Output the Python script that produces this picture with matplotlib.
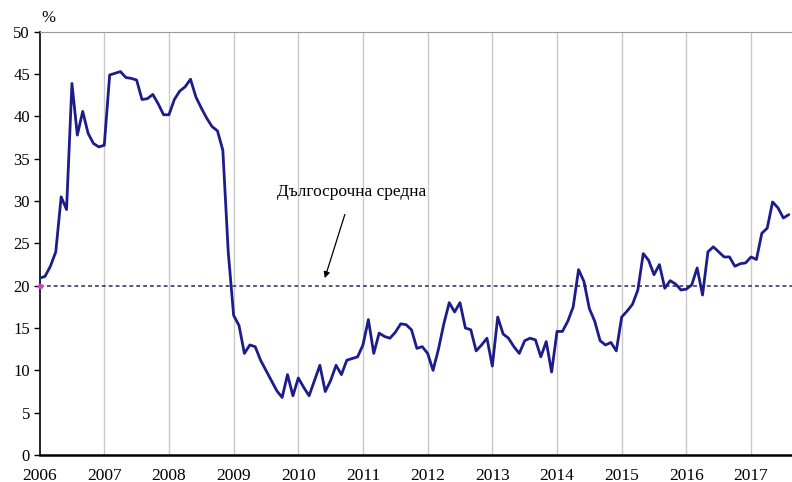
import numpy as np
import matplotlib
matplotlib.use("Agg")
import matplotlib.pyplot as plt

plt.rcParams["font.family"] = ["Liberation Serif", "DejaVu Serif"]

# monthly values, Jan 2006 .. Aug 2017
values = [
    20.9, 21.1, 22.3, 24.0, 30.5, 29.0, 43.9, 37.8, 40.6, 38.0, 36.8, 36.4,  # 2006
    36.6, 44.9, 45.1, 45.3, 44.6, 44.5, 44.3, 42.0, 42.1, 42.6, 41.5, 40.2,  # 2007
    40.2, 42.0, 43.0, 43.5, 44.4, 42.3, 41.0, 39.8, 38.8, 38.3, 36.0, 24.0,  # 2008
    16.5, 15.3, 12.0, 13.0, 12.8, 11.2, 10.0, 8.8, 7.6, 6.8, 9.5, 7.0,       # 2009
    9.1, 8.0, 7.0, 8.8, 10.6, 7.5, 8.8, 10.6, 9.5, 11.2, 11.4, 11.6,         # 2010
    13.0, 16.0, 12.0, 14.4, 14.0, 13.8, 14.5, 15.5, 15.4, 14.8, 12.6, 12.8,  # 2011
    12.0, 10.0, 12.5, 15.5, 18.0, 16.9, 18.0, 15.0, 14.8, 12.3, 13.0, 13.8,  # 2012
    10.5, 16.3, 14.3, 13.8, 12.8, 12.0, 13.5, 13.8, 13.6, 11.6, 13.4, 9.8,   # 2013
    14.6, 14.6, 15.8, 17.5, 21.9, 20.5, 17.3, 15.8, 13.5, 13.0, 13.3, 12.3,  # 2014
    16.3, 17.0, 17.8, 19.5, 23.8, 23.0, 21.3, 22.5, 19.7, 20.6, 20.2, 19.5,  # 2015
    19.6, 20.1, 22.1, 18.9, 24.0, 24.6, 24.0, 23.4, 23.4, 22.3, 22.6, 22.7,  # 2016
    23.4, 23.1, 26.2, 26.8, 29.9, 29.2, 28.0, 28.4,                          # 2017
]
long_term_mean = 20.0
years = list(range(2006, 2018))
y_ticks = list(range(0, 55, 5))

t = 2006 + np.arange(len(values)) / 12.0

fig = plt.figure(figsize=(7.92, 4.82), dpi=100)
ax = fig.add_axes([0.05, 0.056, 0.95, 0.878])

for yr in years[1:]:
    ax.axvline(yr, color="#c8c8c8", lw=1.0, zorder=0)

ax.axhline(long_term_mean, color="#2a2a5a", lw=1.1, ls=(0, (2.5, 2)), zorder=1)
ax.plot([2006], [long_term_mean], marker="o", ms=3, color="#d040d0",
        clip_on=False, zorder=4)

ax.plot(t, values, color="#1c1c8a", lw=2.0, zorder=3,
        solid_joinstyle="round", solid_capstyle="round")

ax.annotate("Дългосрочна средна", xy=(2010.41, 20.9), xytext=(2010.83, 31.1),
            ha="center", va="center", fontsize=12.5,
            arrowprops=dict(arrowstyle="-|>", color="black", lw=0.9,
                            mutation_scale=9, shrinkA=9, shrinkB=0))

ax.set_xlim(2006, 2006 + 139.6 / 12)
ax.set_ylim(0, 50)
ax.set_xticks(years)
ax.set_xticklabels([str(y) for y in years], fontsize=12.5)
ax.set_yticks(y_ticks)
ax.set_yticklabels([str(v) for v in y_ticks], fontsize=12)
ax.tick_params(axis="x", length=0, pad=9)
ax.tick_params(axis="y", length=4, width=1, direction="out", pad=3)

ax.spines["right"].set_visible(False)
ax.spines["top"].set_color("#9a9a9a")
ax.spines["left"].set_linewidth(1.2)
ax.spines["bottom"].set_linewidth(1.8)

fig.text(0.061, 0.962, "%", fontsize=12, ha="center", va="center")

fig.savefig("out.png", dpi=100)
